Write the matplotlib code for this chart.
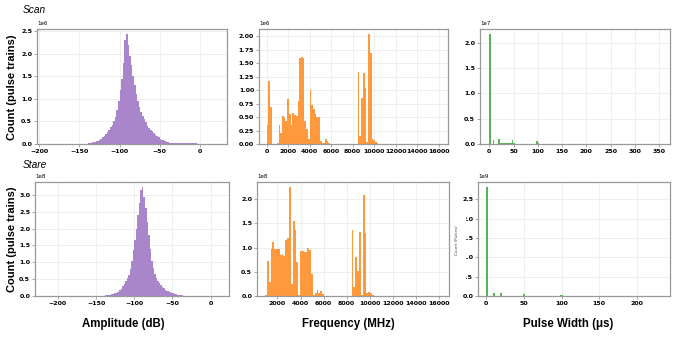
import matplotlib
matplotlib.use("Agg")
import matplotlib.pyplot as plt
import numpy as np
from matplotlib.patches import Rectangle

# ---- data ----
# amplitude, 2 dB bins
scan_amp_start = -150
scan_amp_counts = [  # x1e6
    0.003, 0.004, 0.006, 0.008, 0.011, 0.015, 0.020, 0.027, 0.035, 0.045,
    0.058, 0.075, 0.095, 0.120, 0.150, 0.180, 0.220, 0.260, 0.310, 0.370,
    0.430, 0.500, 0.600, 0.750, 0.950, 1.200, 1.450, 1.800, 2.300, 2.430,
    2.200, 1.950, 1.750, 1.500, 1.300, 1.100, 0.950, 0.820, 0.720, 0.630,
    0.550, 0.480, 0.410, 0.350, 0.300, 0.280, 0.240, 0.210, 0.180, 0.150,
    0.120, 0.095, 0.078, 0.062, 0.050, 0.040, 0.032, 0.026, 0.021, 0.018,
    0.016, 0.015, 0.015, 0.016, 0.018, 0.021, 0.025, 0.028, 0.030, 0.030,
    0.027, 0.020, 0.013, 0.008, 0.005, 0.003, 0.002, 0.001, 0.001, 0.0005,
]
stare_amp_start = -150
stare_amp_counts = [  # x1e8
    0.002, 0.003, 0.004, 0.006, 0.008, 0.011, 0.015, 0.020, 0.027, 0.036,
    0.048, 0.062, 0.080, 0.100, 0.130, 0.170, 0.220, 0.290, 0.370, 0.450,
    0.520, 0.620, 0.800, 1.050, 1.350, 1.650, 2.000, 2.400, 2.750, 3.150,
    3.220, 2.950, 2.600, 2.200, 1.800, 1.400, 1.050, 0.820, 0.650, 0.520,
    0.450, 0.380, 0.320, 0.270, 0.230, 0.190, 0.160, 0.140, 0.120, 0.100,
    0.080, 0.065, 0.050, 0.040, 0.030, 0.022, 0.016, 0.011, 0.007, 0.004,
    0.002,
]
amp_bin = 2

# frequency, 160 MHz bins
scan_freq_start = 0
scan_freq_counts = [  # x1e6
    0.36, 1.16, 0.68, 0, 0, 0, 0.01, 0.36, 0.20, 0.51,
    0.48, 0.43, 0.84, 0.55, 0.36, 0.57, 0.53, 0.52, 0.80, 1.60,
    1.62, 1.60, 0.42, 0.28, 0.10, 1.00, 0.73, 0.65, 0.56, 0.50,
    0.50, 0.05, 0.02, 0.01, 0.09, 0.05, 0.01, 0.005, 0.003, 0.002,
    0, 0, 0, 0, 0, 0, 0, 0, 0, 0,
    0, 0, 0, 1.33, 0.14, 0.85, 1.31, 1.04, 0.03, 2.03,
    1.69, 0.10, 0.07, 0.03, 0.01, 0.005, 0.002, 0, 0, 0,
    0, 0, 0, 0, 0, 0, 0, 0, 0, 0,
    0, 0, 0, 0, 0, 0, 0, 0, 0, 0,
    0, 0, 0, 0, 0, 0, 0, 0, 0, 0.008,
]
stare_freq_start = 920
stare_freq_counts = [  # x1e8
    0.02, 0.72, 0.29, 0.98, 1.11, 0.98, 0.97, 0.96, 0.84, 0.86,
    0.83, 1.15, 1.19, 2.24, 0.24, 1.55, 1.37, 0.70, 0.03, 0.92,
    0.93, 0.90, 0.90, 1.00, 0.95, 0.45, 0.02, 0.06, 0.13, 0.06,
    0.10, 0.05, 0.01, 0.005, 0.003, 0, 0, 0, 0, 0,
    0, 0, 0, 0, 0, 0, 0, 1.37, 0.19, 0.80,
    0.51, 1.32, 0.02, 2.09, 1.29, 0.06, 0.08, 0.06, 0.02, 0.01,
    0.005, 0.003, 0.002,
]
freq_bin = 160

# pulse width (sparse bins)
scan_pw_left = [0.0, 7.1, 17.75, 21.3, 24.85, 28.4, 31.95, 35.5, 39.05, 42.6, 46.15, 49.7, 95.85, 99.4, 351.45]
scan_pw_counts = [2.16, 0.08, 0.09, 0.013, 0.013, 0.012, 0.012, 0.012, 0.012, 0.012, 0.08, 0.01, 0.05, 0.02, 0.001]  # x1e7
scan_pw_bin = 3.55
stare_pw_left = [0.0, 2.33, 4.66, 6.99, 9.32, 11.65, 13.98, 16.31, 18.64, 48.93, 97.86, 100.19]
stare_pw_counts = [2.81, 0.008, 0.006, 0.006, 0.07, 0.006, 0.005, 0.005, 0.09, 0.05, 0.03, 0.025]  # x1e9
stare_pw_bin = 2.33

purple = "#a985ca"
orange = "#ff993e"
green = "#56b356"

W, H = 677, 338
fig = plt.figure(figsize=(W / 100, H / 100), dpi=100)


def px_axes(x0, x1, ytop, ybot):
    return fig.add_axes([x0 / W, 1 - ybot / H, (x1 - x0) / W, (ybot - ytop) / H])


def style(ax, xticks, yticks, scale, xlim):
    ax.set_xlim(*xlim)
    ax.set_xticks(xticks)
    ax.set_yticks(np.array(yticks) * scale)
    ax.grid(True, color="#ececec", linewidth=0.6)
    ax.set_axisbelow(True)
    for s in ax.spines.values():
        s.set_color("#999999")
        s.set_linewidth(0.9)
    ax.tick_params(labelsize=4.5, length=2, width=0.5, color="#888888", pad=1.5)
    for lab in ax.get_xticklabels() + ax.get_yticklabels():
        lab.set_fontweight("bold")
    ax.yaxis.get_offset_text().set_fontsize(4)


def hist_bars(ax, left, counts, width, scale, color):
    ax.bar(left, np.array(counts) * scale, width=width, align="edge",
           color=color, linewidth=0)


# Scan row
ax = px_axes(37, 227, 29, 144)
edges = scan_amp_start + amp_bin * np.arange(len(scan_amp_counts))
hist_bars(ax, edges, scan_amp_counts, amp_bin, 1e6, purple)
style(ax, [-200, -150, -100, -50, 0], [0, 0.5, 1.0, 1.5, 2.0, 2.5], 1e6, (-203, 34))

ax = px_axes(259, 448, 29, 144)
edges = scan_freq_start + freq_bin * np.arange(len(scan_freq_counts))
hist_bars(ax, edges, scan_freq_counts, freq_bin, 1e6, orange)
style(ax, range(0, 16001, 2000), [0, 0.25, 0.5, 0.75, 1.0, 1.25, 1.5, 1.75, 2.0], 1e6, (-700, 16870))

ax = px_axes(480, 670, 29, 144)
hist_bars(ax, scan_pw_left, scan_pw_counts, scan_pw_bin, 1e7, green)
style(ax, range(0, 351, 50), [0, 0.5, 1.0, 1.5, 2.0], 1e7, (-19, 372))

# Stare row
ax = px_axes(35, 229, 182, 296)
edges = stare_amp_start + amp_bin * np.arange(len(stare_amp_counts))
hist_bars(ax, edges, stare_amp_counts, amp_bin, 1e8, purple)
style(ax, [-200, -150, -100, -50, 0], [0, 0.5, 1.0, 1.5, 2.0, 2.5, 3.0], 1e8, (-230, 24))

ax = px_axes(257, 449, 182, 296)
edges = stare_freq_start + freq_bin * np.arange(len(stare_freq_counts))
hist_bars(ax, edges, stare_freq_counts, freq_bin, 1e8, orange)
style(ax, range(2000, 16001, 2000), [0, 0.5, 1.0, 1.5, 2.0], 1e8, (220, 16900))

ax = px_axes(478, 670, 182, 296)
hist_bars(ax, stare_pw_left, stare_pw_counts, stare_pw_bin, 1e9, green)
style(ax, [0, 50, 100, 150, 200], [0, 0.5, 1.0, 1.5, 2.0, 2.5], 1e9, (-11, 244))

# leftover label from the original panel, its white box hides the leading digits
fig.add_artist(Rectangle((451 / W, 1 - 284 / H), 14.5 / W, 72 / H, transform=fig.transFigure,
                         facecolor="white", edgecolor="none", zorder=5))
fig.text(457 / W, 1 - 240 / H, "Count (Pulses)", rotation=90, fontsize=3,
         style="italic", ha="center", va="center", color="#444444", zorder=6)

lab_font = ["Liberation Sans", "DejaVu Sans"]
fig.text(23 / W, 1 - 10 / H, "Scan", style="italic", fontsize=7.3, family=lab_font,
         ha="left", va="center")
fig.text(23 / W, 1 - 165 / H, "Stare", style="italic", fontsize=7.3, family=lab_font,
         ha="left", va="center")
for yc in (87, 239):
    fig.text(12 / W, 1 - yc / H, "Count (pulse trains)", rotation=90, fontsize=8,
             fontweight="bold", family=lab_font, ha="center", va="center")
for xc, txt in ((123, "Amplitude (dB)"), (348, "Frequency (MHz)"), (568, "Pulse Width (μs)")):
    fig.text(xc / W, 1 - 324 / H, txt, fontsize=8.3, fontweight="bold", family=lab_font,
             ha="center", va="center")

fig.savefig("out.png", dpi=100)
